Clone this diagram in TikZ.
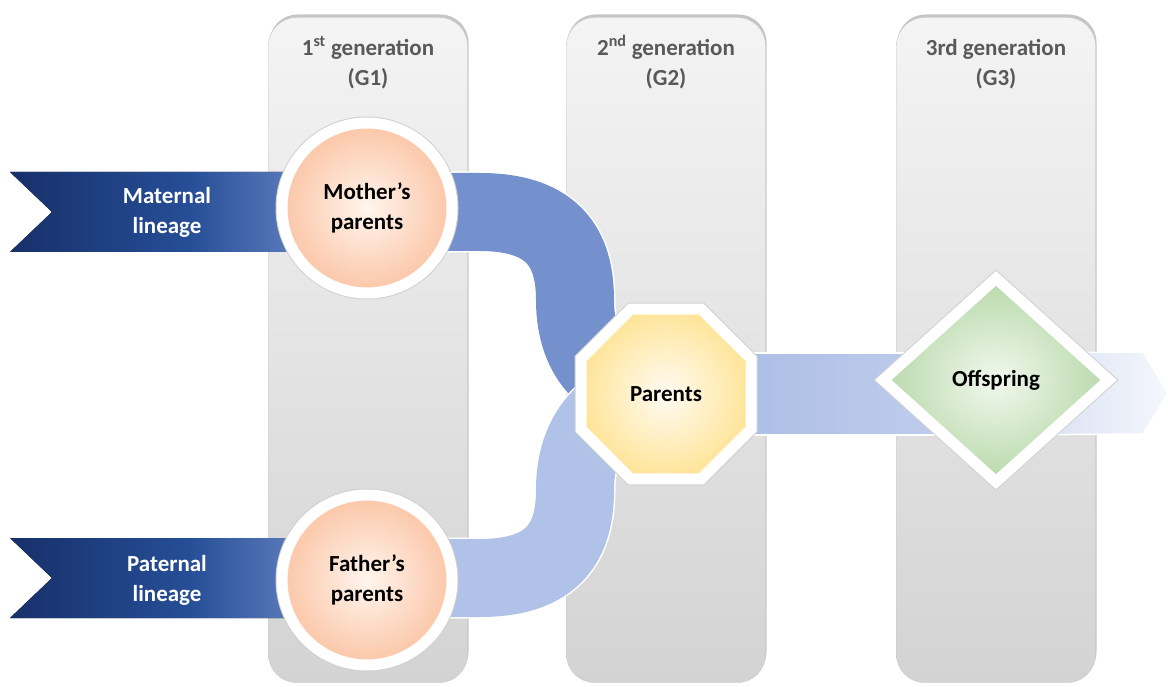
\documentclass[tikz,border=0pt]{standalone}
\usepackage{fontspec}
\setmainfont{Carlito}
\usetikzlibrary{shapes.geometric,shadows,calc}

\definecolor{colgrayT}{HTML}{F4F4F4}
\definecolor{colgrayB}{HTML}{D3D3D3}
\definecolor{titlegray}{HTML}{595959}
\definecolor{navyL}{HTML}{17306A}
\definecolor{navyM}{HTML}{264E96}
\definecolor{navyR}{HTML}{7E99D4}
\definecolor{bandup}{HTML}{7491CD}
\definecolor{banddown}{HTML}{B1C2E8}
\definecolor{bandmidL}{HTML}{A6B9E3}
\definecolor{bandmidR}{HTML}{C4D0EE}
\definecolor{arrowL}{HTML}{CFD9F1}
\definecolor{arrowR}{HTML}{F5F7FC}
\definecolor{orangeD}{HTML}{F9A575}
\definecolor{orangeL}{HTML}{FFF5EE}
\definecolor{yellowD}{HTML}{FFD660}
\definecolor{yellowL}{HTML}{FFFBF3}
\definecolor{greenD}{HTML}{9AC886}
\definecolor{greenL}{HTML}{F1F8EE}

\pgfdeclareradialshading{orangeball}{\pgfpoint{0bp}{0bp}}{color(0bp)=(orangeL); color(42bp)=(orangeD); color(50bp)=(orangeD)}
\pgfdeclareradialshading{yellowball}{\pgfpoint{0bp}{0bp}}{color(0bp)=(yellowL); color(40bp)=(yellowD); color(50bp)=(yellowD)}
\pgfdeclareradialshading{greenball}{\pgfpoint{0bp}{0bp}}{color(0bp)=(greenL); color(38bp)=(greenD); color(50bp)=(greenD)}

\pgfdeclarelayer{back}
\pgfdeclarelayer{band}
\pgfsetlayers{back,band,main}

\tikzset{
  gencol/.style={draw=black!22, rounded corners=28pt, minimum width=199pt,
    minimum height=665pt, top color=colgrayT, bottom color=colgrayB,
    drop shadow={shadow xshift=1pt, shadow yshift=3pt, fill=black!45, opacity=.5}},
  gentitle/.style={text=titlegray, font=\fontsize{23}{30}\selectfont\bfseries,
    align=center, anchor=north},
  ring/.style={draw=white, line width=11pt, inner sep=0pt, align=center,
    font=\fontsize{23}{30}\selectfont\bfseries,
    preaction={draw=black!18, line width=13pt}},
  band/.style={draw=white, line width=1.5pt, double distance=78pt},
  lineage/.style={text=white, align=center, font=\fontsize{23}{30}\selectfont\bfseries}
}

\begin{document}
\begin{tikzpicture}[x=1pt, y=-1pt, line join=miter]
  \useasboundingbox (0,0) rectangle (1168,687);
  % generation columns
  \begin{pgfonlayer}{back}
  \foreach \cx/\gid/\gtxt in {368/1/{1\textsuperscript{st} generation}, 666/2/{2\textsuperscript{nd} generation}, 996/3/{3rd generation}} {
    \node[gencol] (col\gid) at (\cx,350) {};
    \node[gentitle] (title\gid) at ([yshift=-14pt]col\gid.north) {\strut\gtxt\\(G\gid)};
  }
  \end{pgfonlayer}

  % family members
  \node[ring, circle, minimum size=170pt, shading=orangeball] (mother) at (367,208) {Mother’s\\parents};
  \node[ring, circle, minimum size=170pt, shading=orangeball] (father) at (367,580) {Father’s\\parents};
  \node[ring, regular polygon, regular polygon sides=8, minimum size=184pt, shading=yellowball] (parents) at (666,394) {Parents};
  \node[ring, diamond, minimum width=230pt, minimum height=208pt, shading=greenball] (offspring) at (996,380) {Offspring};
  \coordinate (tip) at (1168,393);

  % lineage ribbons
  \node[lineage] (maternal) at (167,212) {Maternal\\lineage};
  \node[lineage] (paternal) at (167,580) {Paternal\\lineage};
  \begin{pgfonlayer}{band}
  \fill[left color=navyL, right color=navyR, middle color=navyM]
    (10,172) -- (mother.center |- 0,172) -- (mother.center |- 0,252) -- (10,252) -- (52,212) -- cycle;
  \fill[left color=navyL, right color=navyR, middle color=navyM]
    (10,538) -- (father.center |- 0,538) -- (father.center |- 0,618) -- (10,618) -- (52,578) -- cycle;
  \draw[band, double=bandup] (mother.center) ++(0,4) -- ++(113,0)
    .. controls +(75,0) and +(0,-50) .. ++(95,88)
    .. controls +(0,60) and +(-56,0) .. (parents.center);
  \draw[band, double=banddown] (father.center) ++(0,-2) -- ++(113,0)
    .. controls +(75,0) and +(0,50) .. ++(95,-88)
    .. controls +(0,-60) and +(-56,0) .. (parents.center);
  \filldraw[draw=white, line width=1.5pt, left color=bandmidL, right color=bandmidR]
    ($(parents.center)+(0,-41)$) rectangle ($(parents.center -| offspring.center)+(0,41)$);
  \filldraw[draw=white, line width=1.5pt, left color=arrowL, right color=arrowR]
    ($(parents.center -| offspring.center)+(0,-41)$) -- ($(tip)+(-25,-41)$) -- (tip)
    -- ($(tip)+(-25,41)$) -- ($(parents.center -| offspring.center)+(0,41)$) -- cycle;
  \end{pgfonlayer}
\end{tikzpicture}
\end{document}
